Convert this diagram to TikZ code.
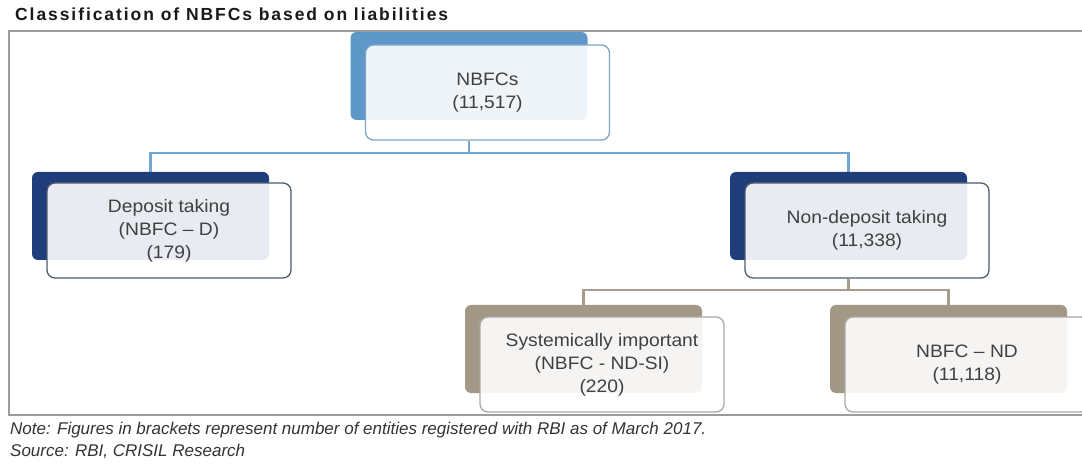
\documentclass[tikz,border=0pt]{standalone}
\usepackage{fontspec}
\setmainfont{Liberation Sans}
\newfontfamily\boxfont[FakeStretch=1.07]{Liberation Sans}
\newfontfamily\titlefont[LetterSpace=11]{Liberation Sans}
\usetikzlibrary{positioning}

\definecolor{nbfcblue}{HTML}{5E98C9}
\definecolor{navy}{HTML}{1F3C7B}
\definecolor{taupe}{HTML}{A39886}
\definecolor{nbfcedge}{HTML}{7EA6C6}
\definecolor{navyedge}{HTML}{505A6E}
\definecolor{taupeedge}{HTML}{ABA9A5}
\definecolor{linkblue}{HTML}{6FA6D2}
\definecolor{linktan}{HTML}{A89C8A}
\definecolor{framegray}{HTML}{9C9C9C}
\definecolor{boxtext}{HTML}{404040}
\definecolor{notegray}{HTML}{333333}

\tikzset{
  backbox/.style={rounded corners=6pt, minimum width=237pt, minimum height=88pt, inner sep=0pt},
  frontbox/.style={rounded corners=8pt, minimum width=244pt, minimum height=95pt, inner sep=0pt,
    fill=white, fill opacity=0.9, text opacity=1, line width=1.3pt, align=center,
    font=\boxfont\fontsize{18}{23}\selectfont, text=boxtext},
  bluelink/.style={draw=linkblue, line width=2.5pt},
  tanlink/.style={draw=linktan, line width=2.5pt},
}

\begin{document}
\begin{tikzpicture}[x=1pt,y=-1pt]
\useasboundingbox (0,0) rectangle (1082,470);
% frame and title
\draw[framegray, line width=1.5pt] (9,31) rectangle (1100,415);
\node[anchor=base west, inner sep=0pt, text=black!90, font=\titlefont\bfseries\fontsize{17.5}{20}\selectfont] (title) at (15,21) {Classification of NBFCs based on liabilities};

% level 1
\node[backbox, fill=nbfcblue] (nbfcBack) at (469,76) {};
\node[frontbox, draw=nbfcedge] (nbfc) at ([shift={(18.5,16.5)}]nbfcBack.center) {NBFCs\\(11,517)};

% level 2
\node[backbox, fill=navy] (depBack) at (150.5,216) {};
\node[frontbox, draw=navyedge] (dep) at ([shift={(18.5,14.5)}]depBack.center) {Deposit taking\\(NBFC – D)\\(179)};
\node[backbox, fill=navy] (ndBack) at (848.5,216) {};
\node[frontbox, draw=navyedge] (nd) at ([shift={(18.5,14.5)}]ndBack.center) {Non-deposit taking\\(11,338)};

% level 3
\node[backbox, fill=taupe] (siBack) at (583.5,349) {};
\node[frontbox, draw=taupeedge] (si) at ([shift={(18.5,15.5)}]siBack.center) {Systemically important\\(NBFC - ND-SI)\\(220)};
\node[backbox, fill=taupe] (ndsBack) at (948.5,349) {};
\node[frontbox, draw=taupeedge] (nds) at ([shift={(18.5,15.5)}]ndsBack.center) {NBFC – ND\\(11,118)};

% connectors
\coordinate (bus1) at (0,153);
\coordinate (bus2) at (0,290);
\draw[bluelink] (nbfcBack.south |- nbfc.south) -- (nbfcBack.south |- bus1) -| (depBack.north);
\draw[bluelink] (nbfcBack.south |- bus1) -| (ndBack.north);
\draw[tanlink] (ndBack.south |- nd.south) -- (ndBack.south |- bus2) -| (siBack.north);
\draw[tanlink] (ndBack.south |- bus2) -| (ndsBack.north);

% notes
\node[anchor=base west, inner sep=0pt, text=notegray, font=\itshape\fontsize{17}{20}\selectfont] (note) at (10,434) {Note: Figures in brackets represent number of entities registered with RBI as of March 2017.};
\node[anchor=base west, inner sep=0pt, text=notegray, font=\itshape\fontsize{17}{20}\selectfont] (source) at (10,456) {Source: RBI, CRISIL Research};
\end{tikzpicture}
\end{document}
